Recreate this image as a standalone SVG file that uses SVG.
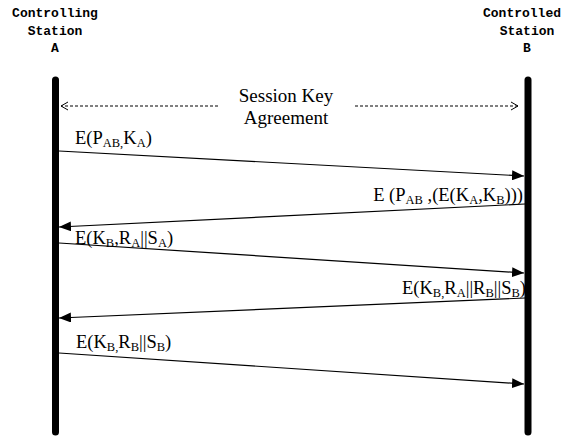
<svg xmlns="http://www.w3.org/2000/svg" width="565" height="437" viewBox="0 0 565 437">
<style>
.hdr{font-family:"Liberation Mono",monospace;font-weight:bold;font-size:13px;fill:#000;text-anchor:middle}
.lbl{font-family:"Liberation Serif",serif;font-size:18.5px;fill:#000}
.big{font-family:"Liberation Serif",serif;font-size:19px;fill:#000;text-anchor:middle}
.sub{font-size:12.5px}
.life{stroke:#000;stroke-width:7;stroke-linecap:round;fill:none}
.msg{stroke:#000;stroke-width:1.2;fill:none;marker-end:url(#ah)}
.dash{stroke:#000;stroke-width:1;stroke-dasharray:3,2;fill:none}
</style>
<defs>
<marker id="ah" markerWidth="12" markerHeight="10" refX="12" refY="5" orient="auto" markerUnits="userSpaceOnUse">
<path d="M0,0 L12,5 L0,10 Z" fill="#000"/>
</marker>
<marker id="oa" markerWidth="8" markerHeight="10" refX="7" refY="5" orient="auto" markerUnits="userSpaceOnUse">
<path d="M0,1 L7,5 L0,9" fill="none" stroke="#000" stroke-width="1"/>
</marker>
</defs>
<rect width="565" height="437" fill="#fff"/>
<g id="stationA">
<text class="hdr" x="55" y="17">Controlling</text>
<text class="hdr" x="55" y="35">Station</text>
<text class="hdr" x="55" y="52">A</text>
<line class="life" x1="55.5" y1="80" x2="55.5" y2="432"/>
</g>
<g id="stationB">
<text class="hdr" x="522" y="17">Controlled</text>
<text class="hdr" x="527" y="35">Station</text>
<text class="hdr" x="527" y="52">B</text>
<line class="life" x1="528" y1="80" x2="528" y2="432"/>
</g>
<g id="connectors">
<line class="dash" x1="218" y1="106" x2="61" y2="106" marker-end="url(#oa)"/>
<line class="dash" x1="355" y1="106" x2="518" y2="106" marker-end="url(#oa)"/>
<line class="msg" x1="59" y1="151" x2="524" y2="176"/>
<line class="msg" x1="525" y1="204" x2="59" y2="227"/>
<line class="msg" x1="59" y1="243" x2="524" y2="273"/>
<line class="msg" x1="525" y1="298" x2="59" y2="318"/>
<line class="msg" x1="59" y1="353" x2="524" y2="384"/>
</g>
<g id="labels">
<text class="big" x="286" y="102">Session Key</text>
<text class="big" x="286" y="124">Agreement</text>
<text class="lbl" x="75" y="144">E(P<tspan class="sub" dy="3">AB,</tspan><tspan dy="-3">K</tspan><tspan class="sub" dy="3">A</tspan><tspan dy="-3">)</tspan></text>
<text class="lbl" x="523" y="201" text-anchor="end">E (P<tspan class="sub" dy="3">AB</tspan><tspan dy="-3"> ,(E(K</tspan><tspan class="sub" dy="3">A</tspan><tspan dy="-3">,K</tspan><tspan class="sub" dy="3">B</tspan><tspan dy="-3">)))</tspan></text>
<text class="lbl" x="75" y="244">E(K<tspan class="sub" dy="3">B</tspan><tspan dy="-3">,R</tspan><tspan class="sub" dy="3">A</tspan><tspan dy="-3">||S</tspan><tspan class="sub" dy="3">A</tspan><tspan dy="-3">)</tspan></text>
<text class="lbl" x="526" y="294" text-anchor="end">E(K<tspan class="sub" dy="3">B,</tspan><tspan dy="-3">R</tspan><tspan class="sub" dy="3">A</tspan><tspan dy="-3">||R</tspan><tspan class="sub" dy="3">B</tspan><tspan dy="-3">||S</tspan><tspan class="sub" dy="3">B</tspan><tspan dy="-3">)</tspan></text>
<text class="lbl" x="76" y="348">E(K<tspan class="sub" dy="3">B,</tspan><tspan dy="-3">R</tspan><tspan class="sub" dy="3">B</tspan><tspan dy="-3">||S</tspan><tspan class="sub" dy="3">B</tspan><tspan dy="-3">)</tspan></text>
</g>
</svg>
